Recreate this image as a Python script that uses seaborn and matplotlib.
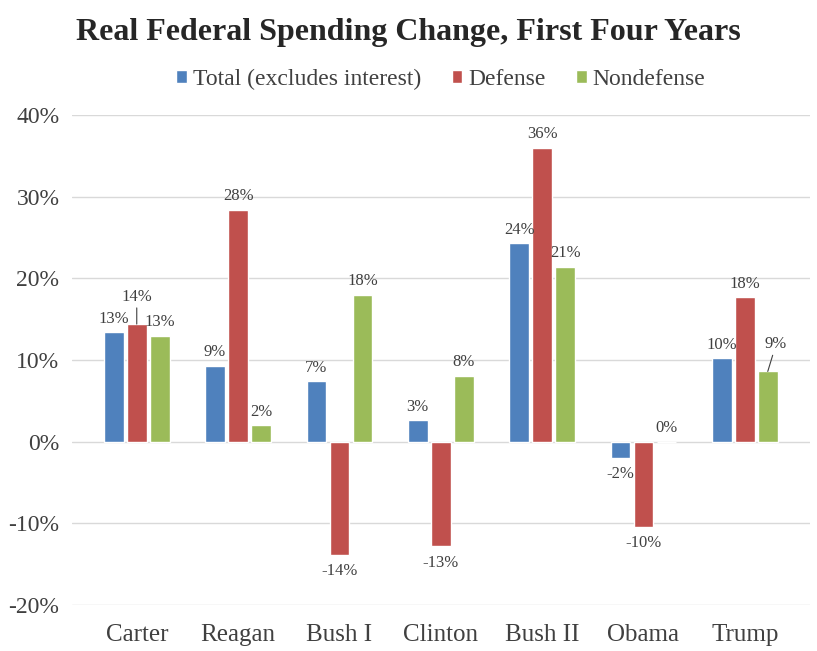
import numpy as np
import pandas as pd
import seaborn as sns
import matplotlib.pyplot as plt

presidents = ["Carter", "Reagan", "Bush I", "Clinton", "Bush II", "Obama", "Trump"]
total = [13.4, 9.3, 7.4, 2.6, 24.3, -2.0, 10.2]
defense = [14.4, 28.4, -13.9, -12.8, 36.0, -10.4, 17.7]
nondefense = [13.0, 2.0, 18.0, 8.1, 21.4, 0.0, 8.6]
series = ["Total (excludes interest)", "Defense", "Nondefense"]
colors = ["#4F81BD", "#C0504D", "#9BBB59"]

df = pd.DataFrame({
    "president": presidents * 3,
    "series": [s for s in series for _ in presidents],
    "value": total + defense + nondefense,
})

sns.set_style("white")
plt.rcParams["font.family"] = ["Liberation Serif", "DejaVu Serif"]

fig = plt.figure(figsize=(8.17, 6.51), dpi=100)
ax = fig.add_axes([0.088, 0.0707, 0.903, 0.7526])

sns.barplot(data=df, x="president", y="value", hue="series", palette=colors,
            saturation=1, width=0.68, gap=0.14, ax=ax, legend=True)

# a couple of labels are lifted up with a leader line, like in the original
lifted = {(1, 0): (0, 14), (2, 6): (6, 14)}

for si, cont in enumerate(ax.containers):
    for ci, (bar, v) in enumerate(zip(cont, cont.datavalues)):
        x = bar.get_x() + bar.get_width() / 2
        lab = f"{round(v):.0f}%"
        if (si, ci) in lifted:
            dx, dy = lifted[(si, ci)]
            ax.annotate(lab, (x, v), xytext=(dx, dy), textcoords="offset points",
                        ha="center", va="bottom", fontsize=12, color="#404040",
                        arrowprops=dict(arrowstyle="-", color="#404040", lw=0.8,
                                        shrinkA=0, shrinkB=0))
        elif v >= 0:
            ax.annotate(lab, (x, v), xytext=(0, 4), textcoords="offset points",
                        ha="center", va="bottom", fontsize=12, color="#404040")
        else:
            ax.annotate(lab, (x, v), xytext=(0, -6), textcoords="offset points",
                        ha="center", va="top", fontsize=12, color="#404040")

ax.set_xlim(-0.64, 6.64)
ax.set_ylim(-20, 40)
ax.set_yticks(np.arange(-20, 41, 10))
ax.set_yticklabels([f"{t}%" for t in range(-20, 41, 10)], fontsize=17, color="#404040")
ax.tick_params(axis="x", labelsize=18, colors="#404040", length=0, pad=14)
ax.tick_params(axis="y", length=0, pad=9)
ax.set_xlabel("")
ax.set_ylabel("")
ax.yaxis.grid(True, color="#d9d9d9", linewidth=1)
ax.set_axisbelow(True)
sns.despine(ax=ax, left=True, bottom=True)

leg = ax.legend(loc="lower center", bbox_to_anchor=(0.5, 1.008), ncol=3, frameon=False,
                fontsize=17, handlelength=0.45, handleheight=0.45, handletextpad=0.25,
                columnspacing=1.3)
for t in leg.get_texts():
    t.set_color("#404040")

fig.suptitle("Real Federal Spending Change, First Four Years", fontsize=23,
             fontweight="bold", y=0.972, x=0.5)

fig.savefig("out.png", dpi=100)
